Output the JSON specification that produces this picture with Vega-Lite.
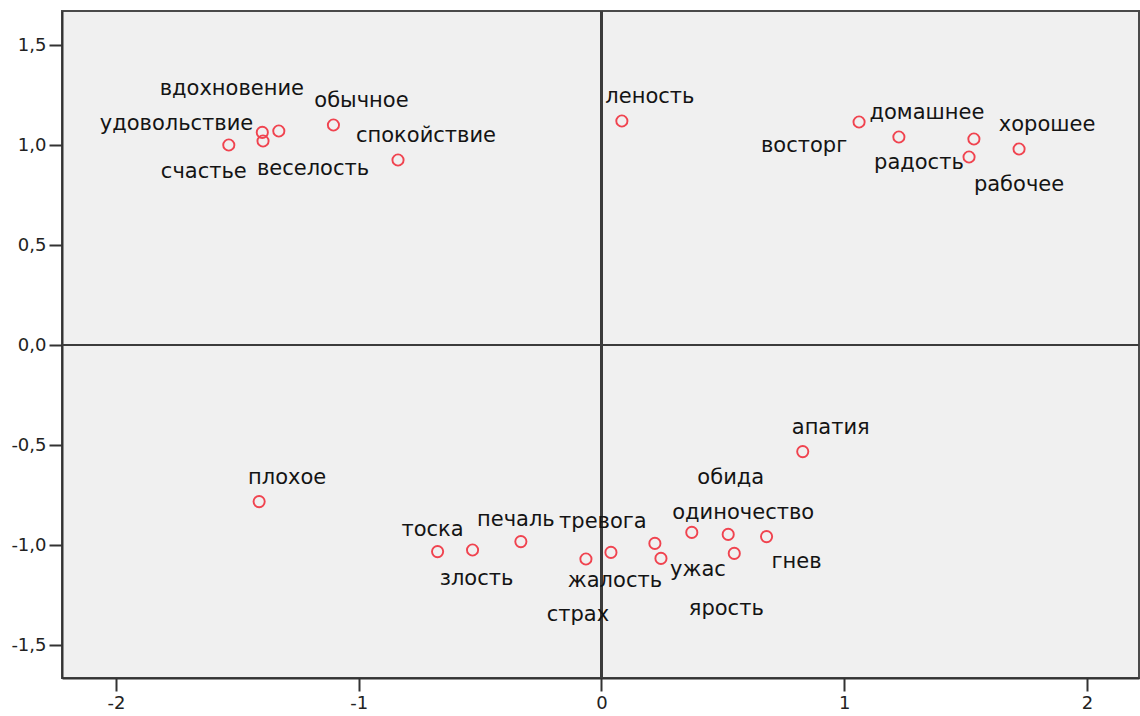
{
  "$schema": "https://vega.github.io/schema/vega-lite/v6.json",
  "width": 1077,
  "height": 667,
  "autosize": {"type": "none"},
  "padding": {"left": 62, "top": 11, "right": 1, "bottom": 38},
  "background": "#ffffff",
  "config": {
    "view": {"fill": "#f0f0f0", "stroke": "#4a4a4a", "strokeWidth": 2},
    "text": {"font": "DejaVu Sans", "fontSize": 21, "fill": "#141414", "align": "center", "baseline": "middle"},
    "axis": {
      "domainColor": "#333333", "domainWidth": 2,
      "tickColor": "#333333", "tickWidth": 2, "tickSize": 13,
      "labelFont": "DejaVu Sans", "labelFontSize": 18, "labelColor": "#222222",
      "labelPadding": 3, "grid": false, "title": null
    }
  },
  "data": {
    "values": [
      {"word": "счастье", "x": -1.535, "y": 1.000, "pos": "SSW"},
      {"word": "удовольствие", "x": -1.397, "y": 1.063, "pos": "W"},
      {"word": "веселость", "x": -1.394, "y": 1.020, "pos": "SE"},
      {"word": "вдохновение", "x": -1.329, "y": 1.070, "pos": "NNW"},
      {"word": "обычное", "x": -1.104, "y": 1.100, "pos": "NE"},
      {"word": "спокойствие", "x": -0.838, "y": 0.925, "pos": "NE"},
      {"word": "леность", "x": 0.084, "y": 1.120, "pos": "NE"},
      {"word": "восторг", "x": 1.061, "y": 1.115, "pos": "SW"},
      {"word": "домашнее", "x": 1.225, "y": 1.040, "pos": "NE"},
      {"word": "радость", "x": 1.534, "y": 1.030, "pos": "SW"},
      {"word": "рабочее", "x": 1.514, "y": 0.940, "pos": "SE"},
      {"word": "хорошее", "x": 1.720, "y": 0.980, "pos": "NE"},
      {"word": "апатия", "x": 0.829, "y": -0.533, "pos": "NE"},
      {"word": "плохое", "x": -1.410, "y": -0.783, "pos": "NE"},
      {"word": "тоска", "x": -0.675, "y": -1.033, "pos": "N"},
      {"word": "злость", "x": -0.531, "y": -1.025, "pos": "S"},
      {"word": "печаль", "x": -0.332, "y": -0.983, "pos": "N"},
      {"word": "тревога", "x": 0.220, "y": -0.992, "pos": "NW"},
      {"word": "жалость", "x": 0.039, "y": -1.037, "pos": "S"},
      {"word": "страх", "x": -0.064, "y": -1.070, "pos": "S2"},
      {"word": "ужас", "x": 0.245, "y": -1.067, "pos": "E"},
      {"word": "обида", "x": 0.372, "y": -0.937, "pos": "N2"},
      {"word": "одиночество", "x": 0.522, "y": -0.947, "pos": "NNE"},
      {"word": "ярость", "x": 0.547, "y": -1.042, "pos": "S2"},
      {"word": "гнев", "x": 0.680, "y": -0.958, "pos": "SSE"}
    ]
  },
  "encoding": {
    "x": {"field": "x", "type": "quantitative", "scale": {"domain": [-2.222, 2.214], "nice": false, "zero": false},
      "axis": {"values": [-2, -1, 0, 1, 2], "labelExpr": "replace(format(datum.value, 'd'), '\u2212', '-')"}},
    "y": {"field": "y", "type": "quantitative", "scale": {"domain": [-1.665, 1.67], "nice": false, "zero": false},
      "axis": {"values": [-1.5, -1, -0.5, 0, 0.5, 1, 1.5], "labelExpr": "replace(replace(format(datum.value, '.1f'), '.', ','), '\u2212', '-')"}}
  },
  "layer": [
    {"mark": {"type": "rule", "stroke": "#3c3c3c", "strokeWidth": 2}, "encoding": {"x": {"datum": 0}, "y": null}},
    {"mark": {"type": "rule", "stroke": "#3c3c3c", "strokeWidth": 2}, "encoding": {"y": {"datum": 0}, "x": null}},
    {"mark": {"type": "point", "shape": "circle", "filled": false, "stroke": "#f0434f", "strokeWidth": 1.9, "size": 125, "opacity": 1}},
    {"transform": [{"filter": "datum.pos === 'NE'"}], "mark": {"type": "text", "dx": 28, "dy": -24}, "encoding": {"text": {"field": "word"}}},
    {"transform": [{"filter": "datum.pos === 'N'"}], "mark": {"type": "text", "dx": -5, "dy": -22}, "encoding": {"text": {"field": "word"}}},
    {"transform": [{"filter": "datum.pos === 'S'"}], "mark": {"type": "text", "dx": 4, "dy": 29}, "encoding": {"text": {"field": "word"}}},
    {"transform": [{"filter": "datum.pos === 'SE'"}], "mark": {"type": "text", "dx": 50, "dy": 28}, "encoding": {"text": {"field": "word"}}},
    {"transform": [{"filter": "datum.pos === 'SW'"}], "mark": {"type": "text", "dx": -55, "dy": 24}, "encoding": {"text": {"field": "word"}}},
    {"transform": [{"filter": "datum.pos === 'SSW'"}], "mark": {"type": "text", "dx": -25, "dy": 27}, "encoding": {"text": {"field": "word"}}},
    {"transform": [{"filter": "datum.pos === 'W'"}], "mark": {"type": "text", "align": "right", "dx": -9, "dy": -8}, "encoding": {"text": {"field": "word"}}},
    {"transform": [{"filter": "datum.pos === 'NNW'"}], "mark": {"type": "text", "dx": -47, "dy": -42}, "encoding": {"text": {"field": "word"}}},
    {"transform": [{"filter": "datum.pos === 'NW'"}], "mark": {"type": "text", "dx": -52, "dy": -21}, "encoding": {"text": {"field": "word"}}},
    {"transform": [{"filter": "datum.pos === 'S2'"}], "mark": {"type": "text", "dx": -8, "dy": 56}, "encoding": {"text": {"field": "word"}}},
    {"transform": [{"filter": "datum.pos === 'E'"}], "mark": {"type": "text", "dx": 37, "dy": 12}, "encoding": {"text": {"field": "word"}}},
    {"transform": [{"filter": "datum.pos === 'SSE'"}], "mark": {"type": "text", "dx": 30, "dy": 25}, "encoding": {"text": {"field": "word"}}},
    {"transform": [{"filter": "datum.pos === 'NNE'"}], "mark": {"type": "text", "dx": 15, "dy": -21}, "encoding": {"text": {"field": "word"}}},
    {"transform": [{"filter": "datum.pos === 'N2'"}], "mark": {"type": "text", "dx": 39, "dy": -54}, "encoding": {"text": {"field": "word"}}}
  ]
}
